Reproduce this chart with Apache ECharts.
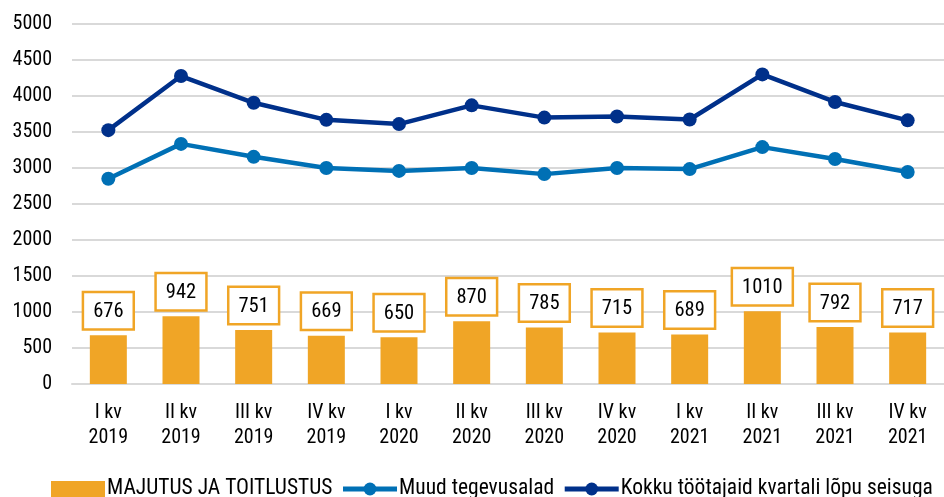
<!DOCTYPE html>
<html>
<head>
<meta charset="utf-8">
<script src="https://cdn.jsdelivr.net/npm/echarts@6/dist/echarts.min.js"></script>
<style>
html,body{margin:0;padding:0;background:#fff;}
#chart{width:944px;height:497px;}
</style>
</head>
<body>
<div id="chart"></div>
<script>
var categories = ['I kv\n2019','II kv\n2019','III kv\n2019','IV kv\n2019','I kv\n2020','II kv\n2020','III kv\n2020','IV kv\n2020','I kv\n2021','II kv\n2021','III kv\n2021','IV kv\n2021'];
var majutus = [676, 942, 751, 669, 650, 870, 785, 715, 689, 1010, 792, 717];
var muud = [2850, 3335, 3155, 3000, 2960, 3000, 2915, 3000, 2985, 3290, 3125, 2945];
var kokku = [3526, 4277, 3906, 3669, 3610, 3870, 3700, 3715, 3674, 4300, 3917, 3662];

var fontFam = '"Roboto Condensed","Liberation Sans Narrow",Roboto,sans-serif';
var orange = '#F0A526';
var lightBlue = '#0070B5';
var darkBlue = '#00308A';

var chart = echarts.init(document.getElementById('chart'));

var option = {
    animation: false,
    textStyle: { fontFamily: fontFam },
    grid: {
        left: 72,
        right: 0,
        top: 24,
        bottom: 113,
        containLabel: false
    },
    legend: {
        left: 51,
        top: 478,
        padding: 0,
        itemWidth: 54,
        itemHeight: 16,
        itemGap: 8,
        textStyle: { fontSize: 21.5, color: '#000', fontFamily: fontFam, padding: [0, 0, 0, -3] },
        data: [
            { name: 'MAJUTUS JA TOITLUSTUS', icon: 'rect' },
            { name: 'Muud tegevusalad', lineStyle: { width: 5 } },
            { name: 'Kokku töötajaid kvartali lõpu seisuga', lineStyle: { width: 5 } }
        ]
    },
    xAxis: {
        type: 'category',
        data: categories,
        axisTick: { show: false },
        axisLine: { lineStyle: { color: '#d9d9d9', width: 2 } },
        axisLabel: {
            color: '#000',
            fontSize: 20,
            lineHeight: 25,
            margin: 16,
            interval: 0
        }
    },
    yAxis: {
        type: 'value',
        min: 0,
        max: 5000,
        interval: 500,
        axisLine: { show: false },
        axisTick: { show: false },
        splitLine: { lineStyle: { color: '#d9d9d9', width: 2 } },
        axisLabel: {
            color: '#000',
            fontSize: 20,
            margin: 20,
            formatter: function (v) { return String(v); }
        }
    },
    series: [
        {
            name: 'MAJUTUS JA TOITLUSTUS',
            type: 'bar',
            data: majutus,
            barWidth: 37,
            itemStyle: { color: orange },
            label: {
                show: true,
                position: 'top',
                distance: 7,
                color: '#000',
                fontSize: 20.5,
                fontFamily: fontFam,
                backgroundColor: '#fff',
                borderColor: orange,
                borderWidth: 2.5,
                padding: [8, 9, 6, 9]
            }
        },
        {
            name: 'Muud tegevusalad',
            type: 'line',
            data: muud,
            symbol: 'circle',
            symbolSize: 14,
            lineStyle: { color: lightBlue, width: 4.5 },
            itemStyle: { color: lightBlue }
        },
        {
            name: 'Kokku töötajaid kvartali lõpu seisuga',
            type: 'line',
            data: kokku,
            symbol: 'circle',
            symbolSize: 14,
            lineStyle: { color: darkBlue, width: 4.5 },
            itemStyle: { color: darkBlue }
        }
    ]
};

chart.setOption(option);
</script>
</body>
</html>
